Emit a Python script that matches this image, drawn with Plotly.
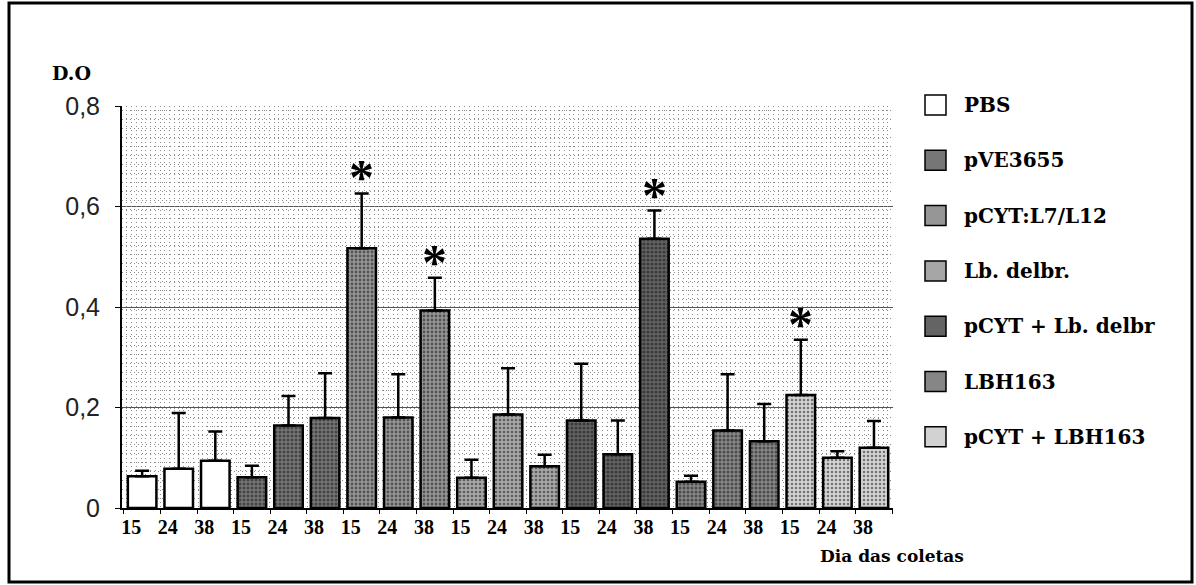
import plotly.graph_objects as go

# ---------------- data ----------------
groups = ["PBS", "pVE3655", "pCYT:L7/L12", "Lb. delbr.", "pCYT + Lb. delbr", "LBH163", "pCYT + LBH163"]
days = ["15", "24", "38"]
means = [
    [0.063, 0.078, 0.094],   # PBS
    [0.061, 0.164, 0.179],   # pVE3655
    [0.517, 0.180, 0.393],   # pCYT:L7/L12
    [0.060, 0.186, 0.083],   # Lb. delbr.
    [0.174, 0.107, 0.536],   # pCYT + Lb. delbr
    [0.052, 0.154, 0.133],   # LBH163
    [0.225, 0.100, 0.120],   # pCYT + LBH163
]
errors = [
    [0.011, 0.111, 0.058],
    [0.023, 0.059, 0.089],
    [0.109, 0.086, 0.065],
    [0.036, 0.092, 0.023],
    [0.113, 0.067, 0.056],
    [0.012, 0.112, 0.074],
    [0.110, 0.013, 0.053],
]
significant = [
    [False, False, False],
    [False, False, False],
    [True, False, True],
    [False, False, False],
    [False, False, True],
    [False, False, False],
    [True, False, False],
]
y_ticks = [0, 0.2, 0.4, 0.6, 0.8]
y_ticktext = ["0", "0,2", "0,4", "0,6", "0,8"]
y_title = "D.O"
x_title = "Dia das coletas"

# ---------------- styles ----------------
fills = ["#ffffff", "#767676", "#969696", "#a6a6a6", "#646464", "#868686", "#d2d2d2"]
pat_shapes = ["", ".", ".", ".", ".", ".", "."]
pat_solid = [0.3, 0.45, 0.4, 0.35, 0.5, 0.45, 0.3]

W, H = 1196, 585
L, R, T, B = 122, 893, 106, 508


def px(xp):
    return (xp - L) / (R - L)


def py(yp):
    return (B - yp) / (B - T)


nd = len(days)
n_bars = len(groups) * nd
x_lo, x_hi = -0.55, n_bars - 0.48

fig = go.Figure()
annotations = []
shapes = []
serif = "Liberation Serif"
wide_serif = "DejaVu Serif"

for g, name in enumerate(groups):
    xs = [g * nd + d for d in range(nd)]
    fig.add_trace(go.Bar(
        x=xs, y=means[g], name=name, width=0.78,
        marker=dict(color=fills[g], line=dict(color="black", width=2.5),
                    pattern=dict(shape=pat_shapes[g], fgcolor="#111111", bgcolor=fills[g],
                                 size=4, solidity=pat_solid[g])),
        error_y=dict(type="data", symmetric=False, array=errors[g], arrayminus=[0] * nd,
                     color="black", thickness=2.5, width=7),
        showlegend=False,
    ))
    for d in range(nd):
        if significant[g][d]:
            annotations.append(dict(
                x=g * nd + d, y=means[g][d] + errors[g][d], xref="x", yref="y",
                text="*", showarrow=False, yanchor="bottom", yshift=-14,
                font=dict(family=serif, size=50, color="black", weight="bold")))

    # manual legend
    yc = 105 + g * 55.3
    shapes.append(dict(type="rect", xref="paper", yref="paper",
                       x0=px(925), x1=px(946), y0=py(yc + 10), y1=py(yc - 10),
                       fillcolor=fills[g], line=dict(color="black", width=1.5)))
    annotations.append(dict(x=px(962), y=py(yc), xref="paper", yref="paper",
                            text=name, showarrow=False, xanchor="left", yanchor="middle",
                            font=dict(family=wide_serif, size=20, color="black", weight="bold")))

annotations.append(dict(x=px(50), y=py(73), xref="paper", yref="paper", text=y_title,
                        showarrow=False, xanchor="left", yanchor="middle",
                        font=dict(family=wide_serif, size=19, color="black", weight="bold")))
annotations.append(dict(x=px(818), y=py(556), xref="paper", yref="paper", text=x_title,
                        showarrow=False, xanchor="left", yanchor="middle",
                        font=dict(family=wide_serif, size=17, color="black", weight="bold")))

# outer frame
shapes.append(dict(type="rect", xref="paper", yref="paper",
                   x0=px(9), x1=px(1192), y0=py(582), y1=py(3),
                   line=dict(color="black", width=3), fillcolor="rgba(0,0,0,0)", layer="above"))

tick_pos = [i - 0.3 for i in range(n_bars)]
tick_txt = [days[i % nd] for i in range(n_bars)]

grid_c = "#8c8c8c"
# invisible helper traces so the overlay axes (dot texture, separator ticks) get drawn
fig.add_trace(go.Scatter(x=[None], y=[None], xaxis="x2", yaxis="y", showlegend=False, hoverinfo="skip"))
fig.add_trace(go.Scatter(x=[None], y=[None], xaxis="x3", yaxis="y", showlegend=False, hoverinfo="skip"))

fig.update_layout(
    width=W, height=H, autosize=False,
    margin=dict(l=L, r=W - R, t=T, b=H - B),
    paper_bgcolor="white", plot_bgcolor="white",
    barmode="overlay",
    annotations=annotations, shapes=shapes,
    xaxis=dict(range=[x_lo, x_hi], tickmode="array", tickvals=tick_pos, ticktext=tick_txt,
               ticks="", showgrid=False, zeroline=False,
               showline=True, linecolor="black", linewidth=1.5,
               tickfont=dict(family=serif, size=20, color="black", weight="bold")),
    xaxis2=dict(overlaying="x", anchor="y", range=[x_lo, x_hi], tickmode="linear",
                tick0=x_lo, dtick=0.13, showgrid=True, gridcolor=grid_c, gridwidth=1,
                griddash="1px,3px", showticklabels=False, ticks="", zeroline=False,
                showline=False),
    xaxis3=dict(overlaying="x", anchor="y", range=[x_lo, x_hi], tickmode="array",
                tickvals=[i + 0.5 for i in range(-1, n_bars)], ticks="outside", ticklen=5,
                tickcolor="black", tickwidth=1, showticklabels=False, showgrid=False,
                zeroline=False, showline=False),
    yaxis=dict(range=[0, 0.8], tickmode="array", tickvals=y_ticks, ticktext=y_ticktext,
               ticks="outside", ticklen=5, tickcolor="black", tickwidth=1,
               showline=True, linecolor="black", linewidth=2, zeroline=False,
               showgrid=True, gridcolor="#555555", gridwidth=1,
               ticklabelstandoff=10,
               minor=dict(tickmode="linear", tick0=0, dtick=0.018, showgrid=True,
                          gridcolor=grid_c, gridwidth=1, griddash="1px,3px", ticklen=0),
               tickfont=dict(family="Liberation Sans", size=25, color="#222222")),
)

fig.write_html("out.html", config={"displayModeBar": False},
               post_script="document.body.style.margin='0';")
